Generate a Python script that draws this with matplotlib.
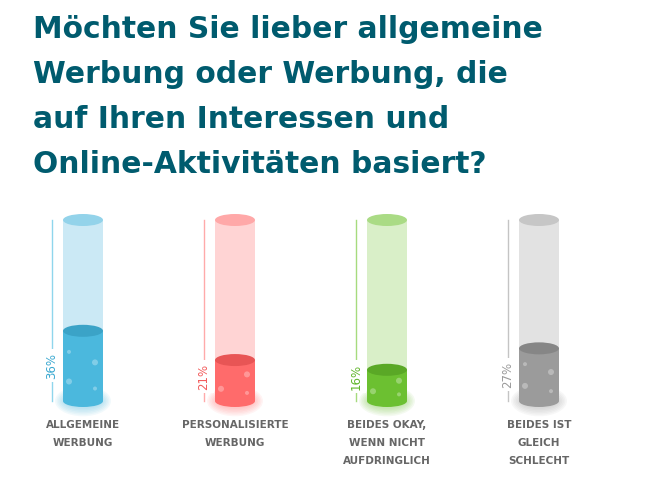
import matplotlib.pyplot as plt
from matplotlib.patches import Rectangle, Ellipse

kategorien = ["ALLGEMEINE\nWERBUNG", "PERSONALISIERTE\nWERBUNG",
              "BEIDES OKAY,\nWENN NICHT\nAUFDRINGLICH", "BEIDES IST\nGLEICH\nSCHLECHT"]
werte = [36, 21, 16, 27]

fuellung = ["#4bb8dd", "#ff6b6b", "#6cc031", "#9b9b9b"]
fuell_oben = ["#3ba3c7", "#e85555", "#5aa826", "#868686"]
roehre = ["#cbe9f5", "#ffd4d4", "#d9efc8", "#e2e2e2"]
deckel = ["#93d3ea", "#ffa8a8", "#aadb85", "#c6c6c6"]
linie = ["#8fd6ec", "#ffaaaa", "#a6db7e", "#c4c4c4"]
text_farbe = ["#3aa8d0", "#f25c5c", "#5fb52a", "#9a9a9a"]

titel = "Möchten Sie lieber allgemeine\nWerbung oder Werbung, die\nauf Ihren Interessen und\nOnline-Aktivitäten basiert?"

fig = plt.figure(figsize=(6.48, 4.8), dpi=100)
ax = fig.add_axes([0, 0, 1, 1])
ax.axis("off")

px_x = 152.0   # px per category
px_y = 1.95    # px per percent
ax.set_xlim(-83 / px_x, (648 - 83) / px_x)
ax.set_ylim(-79 / px_y, (480 - 79) / px_y)

H = 181 / px_y      # tube height
w = 40 / px_x       # tube width
eh = 12 / px_y      # ellipse height

for i, v in enumerate(werte):
    # glow at the bottom
    for k in range(6):
        ax.add_patch(Ellipse((i, 0), w * (1.0 + 0.08 * k), eh * (1.3 + 0.25 * k),
                             color=fuellung[i], alpha=0.07, lw=0, zorder=1))
    # empty tube
    ax.add_patch(Rectangle((i - w / 2, 0), w, H, color=roehre[i], lw=0, zorder=2))
    ax.add_patch(Ellipse((i, H), w, eh, color=deckel[i], lw=0, zorder=3))
    # filled part
    ax.add_patch(Rectangle((i - w / 2, 0), w, v, color=fuellung[i], lw=0, zorder=4))
    ax.add_patch(Ellipse((i, 0), w, eh, color=fuellung[i], lw=0, zorder=4))
    ax.add_patch(Ellipse((i, v), w, eh, color=fuell_oben[i], lw=0, zorder=5))
    # bubbles
    for dx, fy, r in [(-0.35, 0.25, 6), (0.3, 0.15, 4)]:
        ax.add_patch(Ellipse((i + dx * w, v * fy + 1), r / px_x, r / px_y,
                             color="white", alpha=0.3, lw=0, zorder=6))
    if v > 25:
        ax.add_patch(Ellipse((i - 0.35 * w, v * 0.7), 4 / px_x, 4 / px_y,
                             color="white", alpha=0.3, lw=0, zorder=6))
        ax.add_patch(Ellipse((i + 0.3 * w, v * 0.55), 6 / px_x, 6 / px_y,
                             color="white", alpha=0.3, lw=0, zorder=6))
    else:
        ax.add_patch(Ellipse((i + 0.3 * w, v * 0.65), 6 / px_x, 6 / px_y,
                             color="white", alpha=0.3, lw=0, zorder=6))

    # scale line with rotated label
    lx = i - 31 / px_x
    ax.plot([lx, lx], [0, H], color=linie[i], lw=1, zorder=2)
    ax.text(lx, max(v / 2, 12.5), f"{v}%", rotation=90, ha="center", va="center",
            fontsize=8.5, color=text_farbe[i], zorder=3,
            bbox=dict(facecolor="white", edgecolor="none", pad=2.5))

    # category label
    ax.text(i, -10, kategorien[i], ha="center", va="top", fontsize=7.5,
            fontweight="bold", color="#666666", linespacing=1.95,
            family="DejaVu Sans")

fig.text(33 / 648, 1 - 14.5 / 480, titel, ha="left", va="top", fontsize=21.4,
         fontweight="bold", color="#005b6e", linespacing=1.7,
         family="DejaVu Sans")

fig.savefig("out.png", dpi=100, facecolor="white")
